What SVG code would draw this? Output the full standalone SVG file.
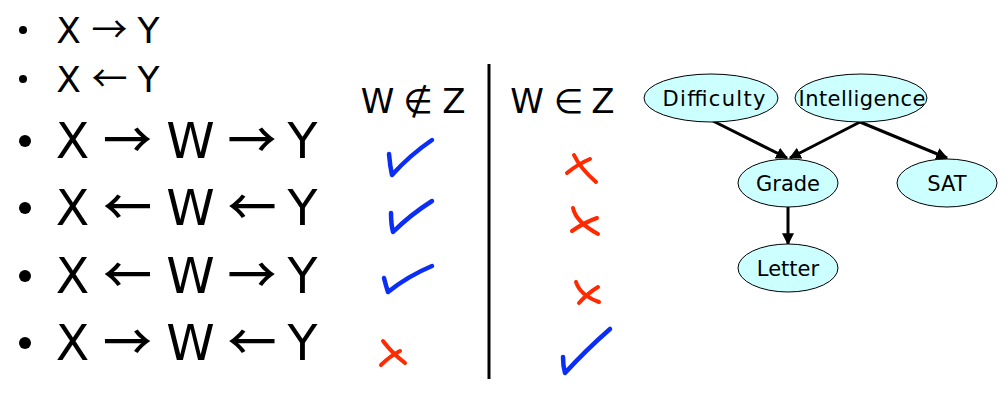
<svg xmlns="http://www.w3.org/2000/svg" width="1008" height="413" viewBox="0 0 1008 413">
<style>
.lst{font-family:"DejaVu Sans",sans-serif;fill:#000;text-anchor:middle}
.ar{font-family:"Noto Sans CJK JP","DejaVu Sans",sans-serif}
.b .ar{font-weight:500}
.s{font-size:36px}
.b{font-size:49px}
.hd{font-family:"DejaVu Sans",sans-serif;font-size:34px;fill:#000;text-anchor:middle}
.chk{fill:none;stroke:#0A2EF5;stroke-width:4.5;stroke-linecap:round;stroke-linejoin:round}
.crs{fill:none;stroke:#FF2A00;stroke-width:4;stroke-linecap:round;stroke-linejoin:round}
.nd ellipse{fill:#CCFFFF;stroke:#000;stroke-width:1}
.nd text{font-family:"DejaVu Sans",sans-serif;font-size:21px;fill:#000;text-anchor:middle}
.edge{stroke:#000;stroke-width:3;fill:none;marker-end:url(#ah)}
</style>
<defs>
<marker id="ah" viewBox="0 0 10 10" refX="9" refY="5" markerWidth="4" markerHeight="4" orient="auto" markerUnits="strokeWidth">
<path d="M0,0 L10,5 L0,10 z" fill="#000"/>
</marker>
</defs>
<rect width="1008" height="413" fill="#fff"/>
<g id="list">
<circle cx="23" cy="30" r="4"/>
<circle cx="23" cy="79" r="4"/>
<circle cx="25" cy="141" r="6"/>
<circle cx="25" cy="208" r="6"/>
<circle cx="25" cy="276" r="6"/>
<circle cx="25" cy="343" r="6"/>
<text class="lst s" y="43"><tspan x="68.5">X</tspan><tspan class="ar" x="109.5">→</tspan><tspan x="148.5">Y</tspan></text>
<text class="lst s" y="92"><tspan x="68.5">X</tspan><tspan class="ar" x="109.5">←</tspan><tspan x="148.5">Y</tspan></text>
<text class="lst b" y="158"><tspan x="72.5">X</tspan><tspan class="ar" x="127.5">→</tspan><tspan x="190.5">W</tspan><tspan class="ar" x="252">→</tspan><tspan x="302.5">Y</tspan></text>
<text class="lst b" y="225"><tspan x="72.5">X</tspan><tspan class="ar" x="127.5">←</tspan><tspan x="190.5">W</tspan><tspan class="ar" x="252">←</tspan><tspan x="302.5">Y</tspan></text>
<text class="lst b" y="293"><tspan x="72.5">X</tspan><tspan class="ar" x="127.5">←</tspan><tspan x="190.5">W</tspan><tspan class="ar" x="252">→</tspan><tspan x="302.5">Y</tspan></text>
<text class="lst b" y="360"><tspan x="72.5">X</tspan><tspan class="ar" x="127.5">→</tspan><tspan x="190.5">W</tspan><tspan class="ar" x="252">←</tspan><tspan x="302.5">Y</tspan></text>
</g>
<g id="table">
<text class="hd" y="113"><tspan x="377.5">W</tspan><tspan x="418">∉</tspan><tspan x="454">Z</tspan></text>
<text class="hd" y="113"><tspan x="527">W</tspan><tspan x="568.5">∈</tspan><tspan x="603">Z</tspan></text>
<line x1="489" y1="64" x2="489" y2="379" stroke="#000" stroke-width="3"/>
<path class="chk" d="M389,154 Q390,166 392,175 Q410,155 432,140"/>
<path class="chk" d="M391,213 Q391,224 393,232 Q410,215 432,201"/>
<path class="chk" d="M384,278 Q386,286 388,292 Q408,276 432,266"/>
<path class="chk" d="M563,357 Q563,366 565,373 Q586,350 610,329"/>
<path class="crs" d="M574,155 Q580,168 596,182 M567,173 Q578,164 590,159"/>
<path class="crs" d="M573,208 Q576,222 598,234 M572,231 Q585,222 597,218"/>
<path class="crs" d="M576,282 Q580,295 599,302 M579,303 Q588,293 598,287"/>
<path class="crs" d="M383,341 Q392,353 405,363 M381,365 Q390,356 400,351"/>
</g>
<g id="connectors">
<line class="edge" x1="713" y1="121" x2="787" y2="158"/>
<line class="edge" x1="860" y1="122" x2="790" y2="158"/>
<line class="edge" x1="860" y1="122" x2="947" y2="158"/>
<line class="edge" x1="788" y1="207" x2="788" y2="244"/>
</g>
<g id="difficulty" class="nd"><ellipse cx="711" cy="98" rx="67" ry="24"/><text x="714" y="106" textLength="103" lengthAdjust="spacing">Difficulty</text></g>
<g id="intelligence" class="nd"><ellipse cx="861" cy="98" rx="66" ry="24"/><text x="862" y="106" textLength="127" lengthAdjust="spacing">Intelligence</text></g>
<g id="grade" class="nd"><ellipse cx="788" cy="183" rx="50" ry="24"/><text x="788" y="191">Grade</text></g>
<g id="sat" class="nd"><ellipse cx="947" cy="183" rx="50" ry="24"/><text x="947" y="191">SAT</text></g>
<g id="letter" class="nd"><ellipse cx="788" cy="268" rx="50" ry="24"/><text x="788" y="276">Letter</text></g>
</svg>
